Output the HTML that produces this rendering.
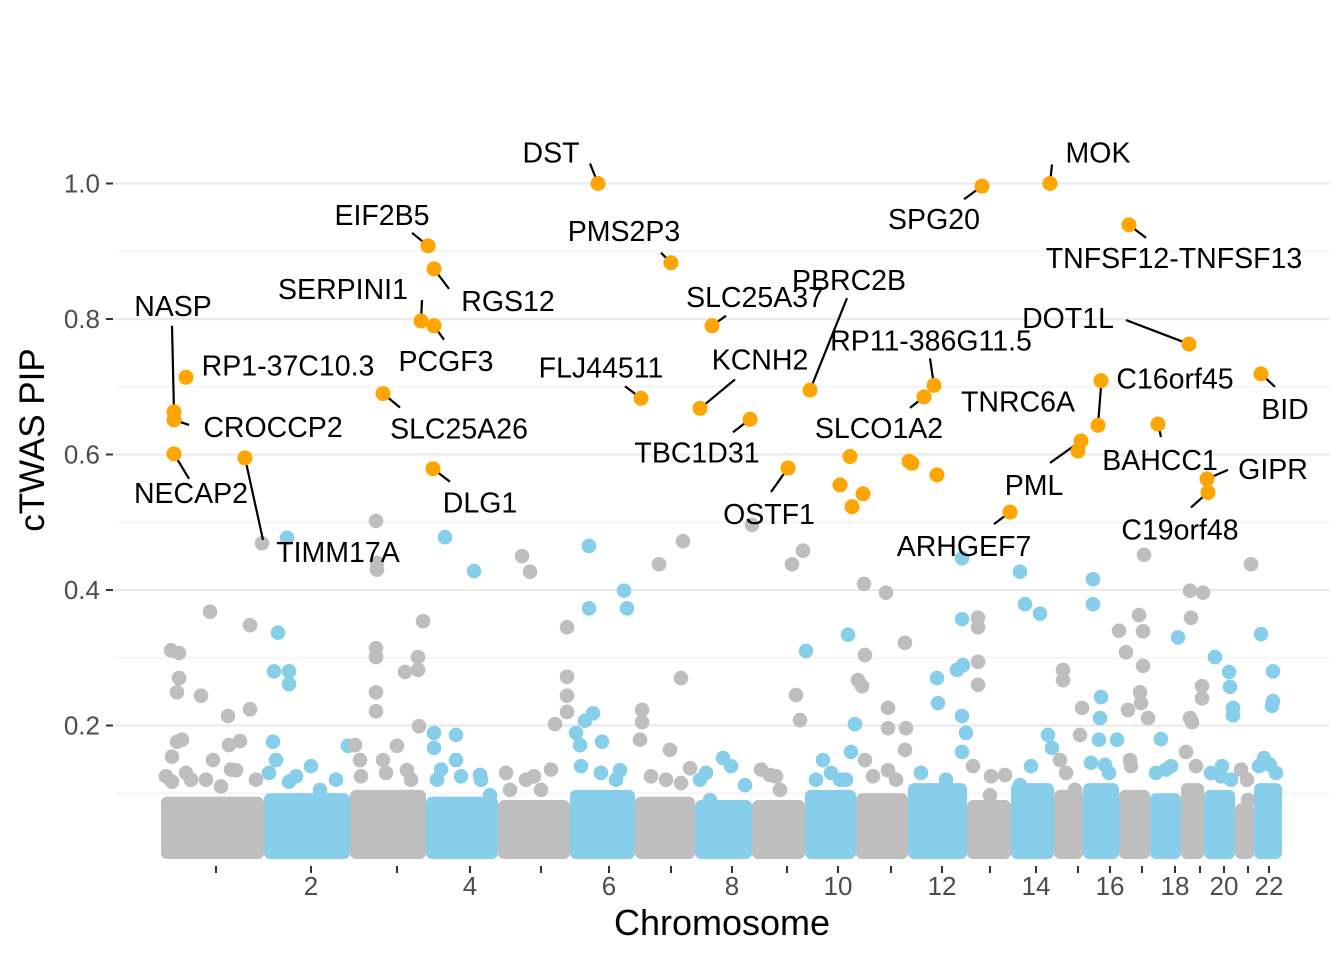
<!DOCTYPE html>
<html><head><meta charset="utf-8"><style>
html,body{margin:0;padding:0;background:#fff;}
svg{display:block;font-family:"Liberation Sans",sans-serif;}
</style></head><body>
<svg id="chart" width="1344" height="960" viewBox="0 0 1344 960" xmlns="http://www.w3.org/2000/svg">
<g id="grid"></g>
<g id="band"></g>
<g id="bg"></g>
<g id="lines"></g>
<g id="hi"></g>
<g id="labels"></g>
<g id="axes"></g>
<text x="722" y="935" font-size="36" text-anchor="middle" fill="#000">Chromosome</text>
<text transform="translate(44,440) rotate(-90)" font-size="35" text-anchor="middle" fill="#000">cTWAS PIP</text>
</svg>
<script>
// chromosome layout (genome units)
const chrStart = [0,103,189,265,337,409,474,534,591,644,695,747,806,850,893,922,958,989,1020,1043,1074,1093];
const genomeEnd = 1121;
const chrTick = [55,150,236,309,380,448,510,571,626,677,730,781,829,875,917,949,981,1014,1039,1063,1087,1108];
const chrTickLabels = ["","2","","4","","6","","8","","10","","12","","14","","16","","18","","20","","22"];
const bandTop = [0.095,0.10,0.105,0.095,0.09,0.105,0.095,0.09,0.09,0.105,0.10,0.115,0.09,0.115,0.105,0.115,0.105,0.10,0.115,0.105,0.085,0.115];
const yTicks = [0.2,0.4,0.6,0.8,1.0];
const yTickLabels = ["0.2","0.4","0.6","0.8","1.0"];
const yMinor = [0.1,0.3,0.5,0.7,0.9];
// background genes
const bgPos = [10,18,18,16,40,49,67,89,89,16,21,11,11,79,75,68,52,101,30,60,
126,117,113,128,128,112,115,128,159,187,171,139,
215,216,216,215,215,215,215,244,257,257,262,258,194,199,222,236,246,
284,313,273,295,273,295,319,276,329,
361,369,394,373,380,349,406,406,406,406,
428,428,463,466,432,424,415,419,441,459,
498,522,520,481,481,479,509,529,
562,539,584,549,591,
631,642,635,645,639,609,619,
687,697,701,694,690,662,704,679,
703,725,704,727,727,744,745,744,727,
801,801,776,777,796,802,801,801,805,
817,817,817,817,844,829,
859,864,879,887,891,859,
902,902,919,899,914,921,
932,932,940,939,938,956,944,958,
983,978,982,965,982,979,980,967,987,969,
1000,1010,1017,
1029,1030,1042,1041,1041,1029,1031,1025,
1054,1068,1069,1072,1072,1061,1070,
1090,1086,1087,
1100,1112,1112,1111,1103,1109,
5,25,45,70,95,108,135,150,175,200,225,250,280,300,320,345,365,390,420,440,455,490,505,520,545,570,600,615,655,670,685,712,735,760,785,812,830,870,905,930,948,970,995,1005,1035,1050,1060,1080,1098,1115];
const bgPip = [0.311,0.307,0.270,0.249,0.244,0.368,0.214,0.348,0.224,0.176,0.179,0.154,0.117,0.177,0.134,0.171,0.149,0.469,0.12,0.11,
0.477,0.337,0.280,0.280,0.261,0.176,0.149,0.117,0.105,0.170,0.09,0.09,
0.502,0.440,0.430,0.314,0.301,0.249,0.221,0.279,0.301,0.282,0.354,0.199,0.171,0.149,0.149,0.170,0.134,
0.478,0.428,0.189,0.186,0.167,0.149,0.127,0.120,0.097,
0.450,0.427,0.202,0.125,0.105,0.105,0.345,0.272,0.244,0.22,
0.465,0.373,0.399,0.373,0.218,0.207,0.189,0.171,0.176,0.134,
0.438,0.472,0.270,0.223,0.205,0.179,0.164,0.137,
0.152,0.120,0.112,0.09,0.496,
0.438,0.458,0.245,0.310,0.208,0.127,0.105,
0.334,0.267,0.258,0.202,0.161,0.149,0.149,0.120,
0.409,0.396,0.304,0.226,0.196,0.322,0.196,0.164,0.134,
0.447,0.357,0.270,0.233,0.282,0.289,0.214,0.161,0.189,
0.359,0.345,0.294,0.260,0.127,0.097,
0.427,0.379,0.365,0.186,0.167,0.112,
0.282,0.267,0.186,0.149,0.105,0.226,
0.416,0.379,0.242,0.211,0.179,0.179,0.142,0.34,
0.452,0.363,0.339,0.308,0.288,0.249,0.233,0.223,0.211,0.149,
0.18,0.14,0.33,
0.399,0.359,0.396,0.258,0.240,0.211,0.205,0.161,
0.301,0.279,0.257,0.226,0.215,0.140,0.12,
0.438,0.120,0.09,
0.335,0.280,0.236,0.229,0.152,0.142,
0.125,0.13,0.12,0.135,0.12,0.13,0.125,0.14,0.12,0.125,0.13,0.12,0.135,0.125,0.12,0.13,0.12,0.135,0.14,0.13,0.12,0.125,0.12,0.115,0.13,0.14,0.135,0.125,0.12,0.13,0.12,0.125,0.12,0.13,0.12,0.14,0.125,0.14,0.13,0.145,0.13,0.14,0.13,0.135,0.14,0.13,0.125,0.135,0.14,0.13];
// highlighted genes
const hiGene = ["NECAP2","CROCCP2","NASP","RP1-37C10.3","TIMM17A","EIF2B5","RGS12","SERPINI1","PCGF3","SLC25A26","DLG1","DST","PMS2P3","SLC25A37","PBRC2B","RP11-386G11.5","SLCO1A2","FLJ44511","KCNH2","TBC1D31","OSTF1","","","","","","","","ARHGEF7","SPG20","MOK","TNFSF12-TNFSF13","DOT1L","C16orf45","TNRC6A","PML","","BAHCC1","BID","GIPR","C19orf48"];
const hiPos = [13,13,13,25,84,267,273,260,273,222,272,437,510,551,649,773,763,480,539,589,627,689,679,702,691,748,751,776,849,821,889,968,1028,940,937,920,917,997,1100,1046,1047];
const hiPip = [0.601,0.651,0.663,0.714,0.595,0.908,0.874,0.797,0.790,0.690,0.579,1.0,0.883,0.790,0.695,0.702,0.685,0.683,0.668,0.652,0.580,0.597,0.555,0.542,0.523,0.590,0.587,0.570,0.515,0.996,1.0,0.939,0.763,0.709,0.643,0.620,0.605,0.645,0.719,0.564,0.544];
// label placement offsets (layout, pixels relative to point)
const lblOff = [[17,39],[99,7],[-1,-106],[102,-12],[93,94],[-46,-31],[74,32],[-78,-32],[12,35],[76,35],[47,34],[-47,-31],[-47,-32],[43,-29],[39,-110],[-3,-45],[-45,31],[-40,-31],[60,-49],[-53,33],[-19,46],null,null,null,null,null,null,null,[-46,34],[-48,33],[48,-31],[45,33],[-121,-26],[74,-2],[-80,-24],[-47,44],null,[2,36],[24,35],[66,-10],[-28,37]];
const lineOff = [[15,25],[15,5],[-2,-86],null,[18,82],[-16,-13],[15,20],[1,-21],[10,14],[17,14],[17,13],[-8,-20],[-10,-10],[14,-10],[37,-92],[-4,-27],[-14,11],[-16,-12],[35,-29],[-17,13],[-17,24],null,null,null,null,null,null,null,[-16,12],[-18,13],[2,-19],[17,13],[-63,-24],null,[3,-39],[-31,22],null,[3,13],[14,13],[21,-9],[-17,15]];

const NS="http://www.w3.org/2000/svg";
const X0=161,X1=1282,Y0=861,YS=677.5;
function X(u){return X0+u*(X1-X0)/genomeEnd;}
function Y(p){return Y0-p*YS;}
function chrOf(u){let c=0;for(let i=0;i<chrStart.length;i++){if(u>=chrStart[i])c=i;}return c;}
function colOf(c){return c%2===0?"#bebebe":"#87ceeb";}
function mk(tag,attrs,parent){const e=document.createElementNS(NS,tag);for(const k in attrs)e.setAttribute(k,attrs[k]);parent.appendChild(e);return e;}
const G=id=>document.getElementById(id);

yMinor.forEach(v=>{const l=mk("line",{x1:115,x2:1330,y1:Y(v),y2:Y(v),stroke:"#f0f0f0","stroke-width":1.2},G("grid"));

});
yTicks.forEach((v,i)=>{const l=mk("line",{x1:115,x2:1330,y1:Y(v),y2:Y(v),stroke:"#ebebeb","stroke-width":2.2},G("grid"));


const t=mk("line",{x1:106,x2:113,y1:Y(v),y2:Y(v),stroke:"#333","stroke-width":2},G("axes"));


const tx=mk("text",{x:100,y:Y(v)+9,"font-size":26,"text-anchor":"end",fill:"#4d4d4d"},G("axes"));
tx.textContent=yTickLabels[i];

});
chrTick.forEach((u,i)=>{const t=mk("line",{x1:X(u),x2:X(u),y1:866,y2:873,stroke:"#333","stroke-width":2},G("axes"));


if(chrTickLabels[i]){const tx=mk("text",{x:X(u),y:895,"font-size":26,"text-anchor":"middle",fill:"#4d4d4d"},G("axes"));
tx.textContent=chrTickLabels[i];

}});
chrStart.forEach((s,i)=>{const e=i+1<chrStart.length?chrStart[i+1]:genomeEnd;
const r=mk("rect",{x:X(s),y:Y(bandTop[i]),width:X(e)-X(s),height:Y(0)-Y(bandTop[i])-2,fill:colOf(i),rx:6},G("band"));

});
bgPos.forEach((u,i)=>{const c=mk("circle",{cx:X(u),cy:Y(bgPip[i]),r:7.3,fill:colOf(chrOf(u))},G("bg"));

});
hiPos.forEach((u,i)=>{const px=X(u),py=Y(hiPip[i]);
if(lineOff[i]){const l=mk("line",{x1:px+lineOff[i][0],y1:py+lineOff[i][1],x2:px,y2:py,stroke:"#000","stroke-width":2.2},G("lines"));

}
const c=mk("circle",{cx:px,cy:py,r:7.5,fill:"#ffa500"},G("hi"));


if(lblOff[i]&&hiGene[i]){const t=mk("text",{x:px+lblOff[i][0],y:py+lblOff[i][1]+10,"font-size":28.5,"text-anchor":"middle",fill:"#000"},G("labels"));
t.textContent=hiGene[i];

}});
</script>
</body></html>
